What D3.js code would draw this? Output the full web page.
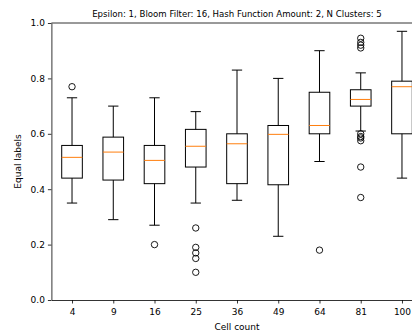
<!DOCTYPE html>
<html>
<head>
<meta charset="utf-8">
<script src="https://cdn.jsdelivr.net/npm/d3@7"></script>
<style>
  body { margin: 0; background: white; }
  text { font-family: "DejaVu Sans", sans-serif; fill: black; }
</style>
</head>
<body>
<div id="chart"></div>
<script>
// box summaries, one entry per cell count
var cells = ["4", "9", "16", "25", "36", "49", "64", "81", "100"];
var lowWhisker = [0.35, 0.29, 0.27, 0.35, 0.36, 0.23, 0.50, 0.61, 0.44];
var q1 = [0.44, 0.433, 0.42, 0.48, 0.42, 0.416, 0.60, 0.70, 0.60];
var medians = [0.515, 0.534, 0.504, 0.555, 0.564, 0.598, 0.63, 0.724, 0.77];
var q3 = [0.558, 0.588, 0.558, 0.616, 0.60, 0.63, 0.75, 0.759, 0.79];
var highWhisker = [0.73, 0.70, 0.73, 0.68, 0.83, 0.80, 0.90, 0.82, 0.97];
var outliers = [
    [0.77],
    [],
    [0.20],
    [0.26, 0.19, 0.17, 0.15, 0.10],
    [],
    [],
    [0.18],
    [0.945, 0.93, 0.92, 0.91, 0.60, 0.59, 0.585, 0.575, 0.48, 0.37],
    []
];
var yTicks = [0, 0.2, 0.4, 0.6, 0.8, 1.0];

var screen = {width: 412, height: 335};
var margins = {left: 51.4, top: 23, bottom: 35};
var plot = {width: 371.2, height: screen.height - margins.top - margins.bottom};

var svg = d3.select("#chart")
    .append("svg")
    .attr("width", screen.width)
    .attr("height", screen.height);

//position 1..9 like matplotlib boxplot
var xScale = d3.scaleLinear()
    .domain([0.5, 9.5])
    .range([margins.left, margins.left + plot.width]);

var yScale = d3.scaleLinear()
    .domain([0, 1])
    .range([margins.top + plot.height, margins.top]);

var boxHalf = (xScale(1.25) - xScale(1));
var capHalf = boxHalf / 2;

var g = svg.append("g");

var boxes = g.selectAll(".box")
    .data(cells)
    .enter()
    .append("g")
    .attr("class", "box");

//whiskers
boxes.append("line")
    .attr("x1", function(d, i) { return xScale(i + 1); })
    .attr("x2", function(d, i) { return xScale(i + 1); })
    .attr("y1", function(d, i) { return yScale(lowWhisker[i]); })
    .attr("y2", function(d, i) { return yScale(q1[i]); })
    .attr("stroke", "black");
boxes.append("line")
    .attr("x1", function(d, i) { return xScale(i + 1); })
    .attr("x2", function(d, i) { return xScale(i + 1); })
    .attr("y1", function(d, i) { return yScale(highWhisker[i]); })
    .attr("y2", function(d, i) { return yScale(q3[i]); })
    .attr("stroke", "black");

//caps
boxes.append("line")
    .attr("x1", function(d, i) { return xScale(i + 1) - capHalf; })
    .attr("x2", function(d, i) { return xScale(i + 1) + capHalf; })
    .attr("y1", function(d, i) { return yScale(lowWhisker[i]); })
    .attr("y2", function(d, i) { return yScale(lowWhisker[i]); })
    .attr("stroke", "black");
boxes.append("line")
    .attr("x1", function(d, i) { return xScale(i + 1) - capHalf; })
    .attr("x2", function(d, i) { return xScale(i + 1) + capHalf; })
    .attr("y1", function(d, i) { return yScale(highWhisker[i]); })
    .attr("y2", function(d, i) { return yScale(highWhisker[i]); })
    .attr("stroke", "black");

//the boxes
boxes.append("rect")
    .attr("x", function(d, i) { return xScale(i + 1) - boxHalf; })
    .attr("width", boxHalf * 2)
    .attr("y", function(d, i) { return yScale(q3[i]); })
    .attr("height", function(d, i) { return yScale(q1[i]) - yScale(q3[i]); })
    .attr("fill", "none")
    .attr("stroke", "black");

//medians
boxes.append("line")
    .attr("x1", function(d, i) { return xScale(i + 1) - boxHalf; })
    .attr("x2", function(d, i) { return xScale(i + 1) + boxHalf; })
    .attr("y1", function(d, i) { return yScale(medians[i]); })
    .attr("y2", function(d, i) { return yScale(medians[i]); })
    .attr("stroke", "#ff7f0e");

//fliers
boxes.each(function(d, i) {
    d3.select(this).selectAll("circle")
        .data(outliers[i])
        .enter()
        .append("circle")
        .attr("cx", xScale(i + 1))
        .attr("cy", function(v) { return yScale(v); })
        .attr("r", 3.2)
        .attr("fill", "none")
        .attr("stroke", "black")
        .attr("stroke-width", 0.9);
});

//axes
var xAxis = d3.axisBottom(xScale)
    .tickValues(d3.range(1, 10))
    .tickFormat(function(d) { return cells[d - 1]; })
    .tickSizeInner(3.5)
    .tickSizeOuter(0);
var yAxis = d3.axisLeft(yScale)
    .tickValues(yTicks)
    .tickFormat(d3.format(".1f"))
    .tickSizeInner(3.5)
    .tickSizeOuter(0);

var xg = svg.append("g")
    .attr("transform", "translate(0," + (margins.top + plot.height) + ")")
    .call(xAxis);
var yg = svg.append("g")
    .attr("transform", "translate(" + margins.left + ",0)")
    .call(yAxis);

[xg, yg].forEach(function(a) {
    a.selectAll("text").style("font-size", "9px").attr("font-family", null);
    a.selectAll("line").attr("stroke", "black").attr("stroke-width", 0.8);
    a.select(".domain").attr("stroke", "black").attr("stroke-width", 0.8);
});
xg.selectAll("text").attr("dy", "0.95em");

//top spine
svg.append("line")
    .attr("x1", margins.left)
    .attr("x2", margins.left + plot.width)
    .attr("y1", margins.top)
    .attr("y2", margins.top)
    .attr("stroke", "black")
    .attr("stroke-width", 0.8);

//labels
svg.append("text")
    .attr("x", xScale(5))
    .attr("y", 17)
    .attr("text-anchor", "middle")
    .style("font-size", "8.6px")
    .text("Epsilon: 1, Bloom Filter: 16, Hash Function Amount: 2, N Clusters: 5");

svg.append("text")
    .attr("x", xScale(5))
    .attr("y", 330)
    .attr("text-anchor", "middle")
    .style("font-size", "9px")
    .text("Cell count");

svg.append("text")
    .attr("transform", "translate(21," + yScale(0.5) + ") rotate(-90)")
    .attr("text-anchor", "middle")
    .style("font-size", "9px")
    .text("Equal labels");
</script>
</body>
</html>
